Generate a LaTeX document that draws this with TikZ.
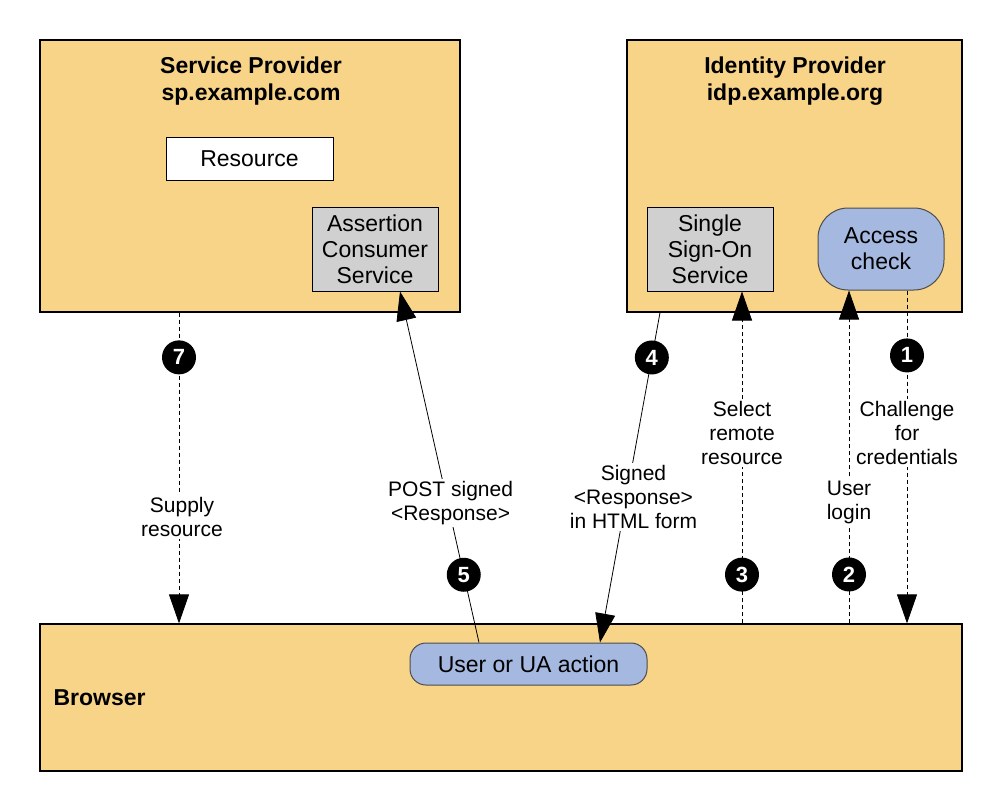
\documentclass[tikz,border=0pt]{standalone}
\usepackage{fontspec}
\setmainfont{Liberation Sans}
\usetikzlibrary{arrows.meta}

\definecolor{provider}{RGB}{247,212,136}
\definecolor{service}{RGB}{208,208,208}
\definecolor{action}{RGB}{165,184,224}

\begin{document}
\begin{tikzpicture}[x=1pt, y=-1pt,
  txt/.style={font=\fontsize{23}{26}\selectfont, align=center},
  party/.style={draw=black, line width=1.2pt, fill=provider, inner sep=0pt},
  svcbox/.style={txt, draw=black, line width=1pt, fill=service, inner sep=0pt,
    minimum width=126pt, minimum height=84pt},
  actbox/.style={txt, draw=black!70, line width=1pt, fill=action, inner sep=0pt},
  flow/.style={line width=0.8pt, -{Triangle[length=29pt, width=20pt]}},
  dflow/.style={flow, dash pattern=on 4pt off 3pt},
  step num/.style={circle, fill=black, text=white, inner sep=0pt, minimum size=34pt,
    font=\fontsize{22}{22}\selectfont\bfseries},
  msg/.style={align=center, font=\fontsize{21}{24}\selectfont, fill=white, inner sep=2pt}]

\fill[white] (0,0) rectangle (1004,793);
\useasboundingbox (0,0) rectangle (1004,793);

% parties
\node[party, minimum width=420pt, minimum height=272pt] (sp) at (250,176) {};
\node[party, minimum width=335pt, minimum height=272pt] (idp) at (794.5,176) {};
\node[party, minimum width=922pt, minimum height=147pt] (browser) at (501,697.5) {};

\node[txt, font=\fontsize{23}{27}\selectfont\bfseries] (sptitle) at (251,81) {Service Provider\\sp.example.com};
\node[txt, font=\fontsize{23}{27}\selectfont\bfseries] (idptitle) at (795,81) {Identity Provider\\idp.example.org};
\node[txt, font=\fontsize{23}{26}\selectfont\bfseries, anchor=west] (brtitle) at (50,698) {Browser};

% services
\node[txt, draw=black, line width=1pt, fill=white, minimum width=167pt, minimum height=43pt, inner sep=0pt] (res) at (249.5,158.5) {Resource};
\node[svcbox] (acs) at (375,249) {Assertion\\Consumer\\Service};
\node[svcbox] (sso) at (710,249) {Single\\Sign-On\\Service};
\node[actbox, rounded corners=30pt, minimum width=126pt, minimum height=82pt] (access) at (881,249) {Access\\check};
\node[actbox, rounded corners=16pt, minimum width=237pt, minimum height=42pt] (ua) at (528.5,664) {User or UA action};

% messages
\draw[dflow] ([xshift=26pt]access.south) -- ([xshift=406pt]browser.north)
  node[msg, pos=0.428] (m1) {Challenge\\for\\credentials}
  node[step num, pos=0.195] (n1) {1};
\draw[dflow] ([xshift=348pt]browser.north) -- ([xshift=-32pt]access.south)
  node[msg, pos=0.363] (m2) {User\\login}
  node[step num, pos=0.147] (n2) {2};
\draw[dflow] ([xshift=241pt]browser.north) -- ([xshift=32pt]sso.south)
  node[msg, pos=0.574] (m3) {Select\\remote\\resource}
  node[step num, pos=0.147] (n3) {3};
\draw[flow] ([xshift=-134.5pt]idp.south) -- ([xshift=71.5pt]ua.north)
  node[msg, pos=0.559, xshift=7pt] (m4) {Signed\\<Response>\\in HTML form}
  node[step num, pos=0.136] (n4) {4};
\draw[flow] ([xshift=-49.5pt]ua.north) -- ([xshift=25pt]acs.south)
  node[msg, pos=0.398, xshift=3pt] (m5) {POST signed\\<Response>}
  node[step num, pos=0.193] (n5) {5};
\draw[dflow] ([xshift=-71pt]sp.south) -- ([xshift=-322pt]browser.north)
  node[msg, pos=0.657, xshift=3pt] (m7) {Supply\\resource}
  node[step num, pos=0.144] (n7) {7};

\end{tikzpicture}
\end{document}
